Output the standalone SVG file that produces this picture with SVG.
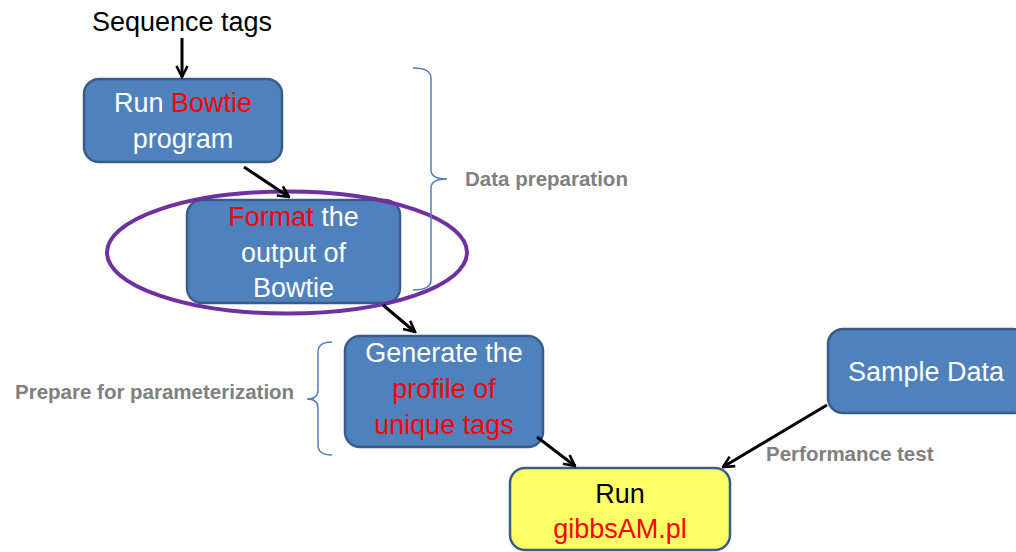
<svg xmlns="http://www.w3.org/2000/svg" width="1016" height="552" viewBox="0 0 1016 552">
  <defs>
    <style>
      .box { fill: #4f81bd; stroke: #385d8a; stroke-width: 2.5; }
      .ybox { fill: #ffff66; stroke: #385d8a; stroke-width: 2.5; }
      .t { font-family: "Liberation Sans", Arial, sans-serif; font-size: 27px; text-anchor: middle; }
      .w { fill: #ffffff; }
      .r { fill: #ff0000; }
      .k { fill: #000000; }
      .lbl { font-family: "Liberation Sans", Arial, sans-serif; font-size: 20.5px; font-weight: bold; fill: #808080; }
      .edge { stroke: #000000; stroke-width: 3; fill: none; marker-end: url(#arrow); }
      .brace { stroke: #4f81bd; stroke-width: 1.5; fill: none; }
    </style>
    <marker id="arrow" viewBox="0 0 14 14" refX="12.5" refY="7" markerWidth="14" markerHeight="14" markerUnits="userSpaceOnUse" orient="auto">
      <path d="M1.5,1.5 L12.5,7 L1.5,12.5" fill="none" stroke="#000000" stroke-width="2.6"/>
    </marker>
  </defs>

  <rect width="1016" height="552" fill="#ffffff"/>

  <!-- input label -->
  <g id="seq-tags">
    <text class="t k" x="182" y="31">Sequence tags</text>
  </g>

  <!-- processing steps -->
  <g id="run-bowtie">
    <rect class="box" x="84" y="79" width="198" height="83" rx="15"/>
    <text class="t w" x="183" y="112">Run <tspan class="r">Bowtie</tspan></text>
    <text class="t w" x="183" y="148">program</text>
  </g>

  <g id="format-output">
    <rect class="box" x="187" y="200" width="213" height="103" rx="15"/>
    <text class="t w" x="293.5" y="226"><tspan class="r">Format</tspan> the</text>
    <text class="t w" x="293.5" y="262">output of</text>
    <text class="t w" x="293.5" y="297">Bowtie</text>
  </g>

  <g id="highlight">
    <ellipse cx="287" cy="252.5" rx="180" ry="61" fill="none" stroke="#7030a0" stroke-width="4"/>
  </g>

  <g id="generate-profile">
    <rect class="box" x="345" y="336" width="198" height="111" rx="15"/>
    <text class="t w" x="444" y="362">Generate the</text>
    <text class="t r" x="444" y="398">profile of</text>
    <text class="t r" x="444" y="434">unique tags</text>
  </g>

  <g id="sample-data">
    <rect class="box" x="828" y="329" width="200" height="84" rx="15"/>
    <text class="t w" x="926" y="381">Sample Data</text>
  </g>

  <g id="run-gibbs">
    <rect class="ybox" x="510" y="468" width="220" height="82" rx="15"/>
    <text class="t k" x="620" y="503">Run</text>
    <text class="t r" x="620" y="538">gibbsAM.pl</text>
  </g>

  <!-- stage annotations -->
  <g id="data-preparation">
    <path class="brace" d="M413,68 Q431,68 431,78 L431,170 Q431,179 447,179 Q431,179 431,188 L431,280 Q431,290 413,290"/>
    <text class="lbl" x="465" y="186">Data preparation</text>
  </g>

  <g id="prepare-param">
    <path class="brace" d="M332,342 Q318,342 318,352 L318,390 Q318,399 307,399 Q318,399 318,408 L318,445 Q318,455 332,455"/>
    <text class="lbl" x="15" y="399">Prepare for parameterization</text>
  </g>

  <g id="performance-test">
    <text class="lbl" x="766" y="461">Performance test</text>
  </g>

  <!-- connectors -->
  <g id="connectors">
    <line class="edge" x1="182" y1="38" x2="182" y2="77"/>
    <line class="edge" x1="244" y1="167" x2="289" y2="197"/>
    <line class="edge" x1="383" y1="305" x2="415" y2="332"/>
    <line class="edge" x1="537" y1="437" x2="575" y2="466"/>
    <line class="edge" x1="827" y1="405" x2="723" y2="467"/>
  </g>
</svg>
